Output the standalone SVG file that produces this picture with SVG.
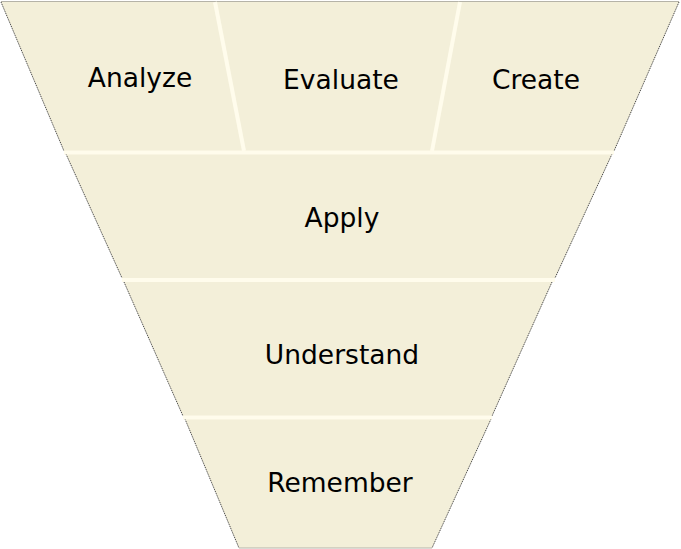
<svg xmlns="http://www.w3.org/2000/svg" width="681" height="549" viewBox="0 0 681 549">
  <style>
    .band { fill: #f3efd9; }
    .edge { fill: none; stroke: #333333; stroke-width: 0.9; stroke-dasharray: 1.2 0.8; }
    .rim { fill: none; stroke: #b5b3a8; stroke-width: 1; }
    .sep { stroke: #fffcec; stroke-width: 4; stroke-linecap: butt; }
    .label { font-family: "DejaVu Sans", "Liberation Sans", sans-serif; font-size: 26.5px; fill: #000; text-anchor: middle; }
  </style>
  <rect width="681" height="549" fill="#ffffff"/>

  <!-- top tier: three side-by-side cells -->
  <g id="analyze">
    <polygon class="band" points="1,2 215,2 244,151 64,151"/>
    <path class="edge" d="M1,2 L64,151"/>
    <text class="label" x="140" y="87">Analyze</text>
  </g>
  <g id="evaluate">
    <polygon class="band" points="215,2 460,2 432,151 244,151"/>
    <text class="label" x="341" y="89">Evaluate</text>
  </g>
  <g id="create">
    <polygon class="band" points="460,2 679,2 614,151 432,151"/>
    <path class="edge" d="M679,2 L614,151"/>
    <text class="label" x="536" y="89">Create</text>
  </g>
  <path class="rim" d="M1,1.5 H679"/>

  <g id="apply">
    <polygon class="band" points="66,154 612,154 555,278 122,278"/>
    <path class="edge" d="M66,154 L122,278 M612,154 L555,278"/>
    <text class="label" x="342" y="227">Apply</text>
  </g>

  <g id="understand">
    <polygon class="band" points="124,282 552,282 492,416 183,416"/>
    <path class="edge" d="M124,282 L183,416 M552,282 L492,416"/>
    <text class="label" x="342" y="364">Understand</text>
  </g>

  <g id="remember">
    <polygon class="band" points="185,419 491,419 432,548 239,548"/>
    <path class="edge" d="M185,419 L239,548 M491,419 L432,548"/>
    <path class="rim" d="M239,548 H432"/>
    <text class="label" x="340" y="492">Remember</text>
  </g>

  <!-- light dividers between the cells and tiers -->
  <g id="dividers">
    <line class="sep" x1="215" y1="2" x2="244" y2="151"/>
    <line class="sep" x1="460" y1="2" x2="432" y2="151"/>
    <line class="sep" x1="64" y1="152.5" x2="614" y2="152.5"/>
    <line class="sep" x1="122" y1="280" x2="555" y2="280"/>
    <line class="sep" x1="183" y1="417.5" x2="492" y2="417.5"/>
  </g>
</svg>
